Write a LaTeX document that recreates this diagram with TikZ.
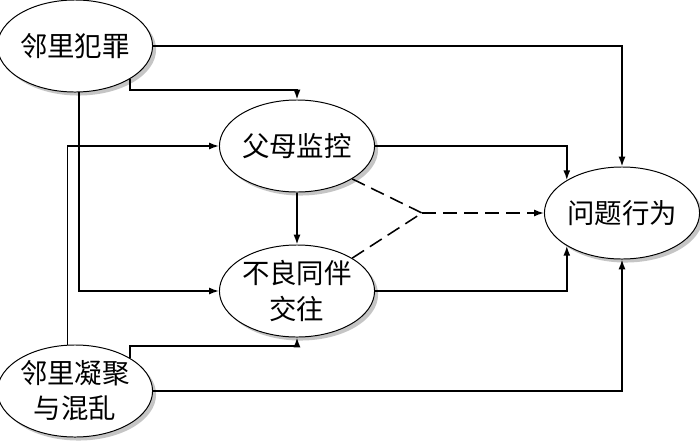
\documentclass[tikz,border=0pt]{standalone}
\usepackage{fontspec}
\newfontfamily\cjk{Noto Sans CJK SC}
\usetikzlibrary{shapes.geometric,arrows.meta,shadows}

\begin{document}
\begin{tikzpicture}[x=0.025cm,y=-0.025cm,
        ell/.style={ellipse,draw,line width=0.7pt,fill=white,inner sep=0pt,
            minimum width=3.75cm,minimum height=2.3cm,align=center,
            font=\cjk\fontsize{19.5}{25}\selectfont,
            drop shadow={shadow xshift=2.5pt,shadow yshift=-2.5pt,fill=black!45}},
        arr/.style={-{Latex[length=7pt,width=5pt]},line width=1.1pt},
        dsh/.style={line width=1.1pt,dash pattern=on 10pt off 5pt}]
    \useasboundingbox (0,0) rectangle (700,443);

    \node[ell] (A) at (75,46)   {邻里犯罪};
    \node[ell] (P) at (297,146) {父母监控};
    \node[ell] (D) at (297,291) {不良同伴\\交往};
    \node[ell] (C) at (75,391)  {邻里凝聚\\与混乱};
    \node[ell] (B) at (622,213) {问题行为};
    \coordinate (J) at (422,213);

    \draw[arr] (A.east) -| (B.north);
    \draw[arr] (A.south east) -- ++(0,11) -| (P.north);
    \draw[arr] (A.-85) |- (D.west);
    \draw[arr] (C.99) |- (P.west);
    \draw[arr] (C.north east) -- ++(0,-12) -| (D.south);
    \draw[arr] (C.east) -| (B.south);
    \draw[arr] (P.east) -| (B.north west);
    \draw[arr] (D.east) -| (B.south west);
    \draw[arr] (P.south) -- (D.north);

    \draw[dsh] (P.south east) -- (J);
    \draw[dsh] (D.north east) -- (J);
    \draw[dsh,arr] (J) -- (B.west);
\end{tikzpicture}
\end{document}
